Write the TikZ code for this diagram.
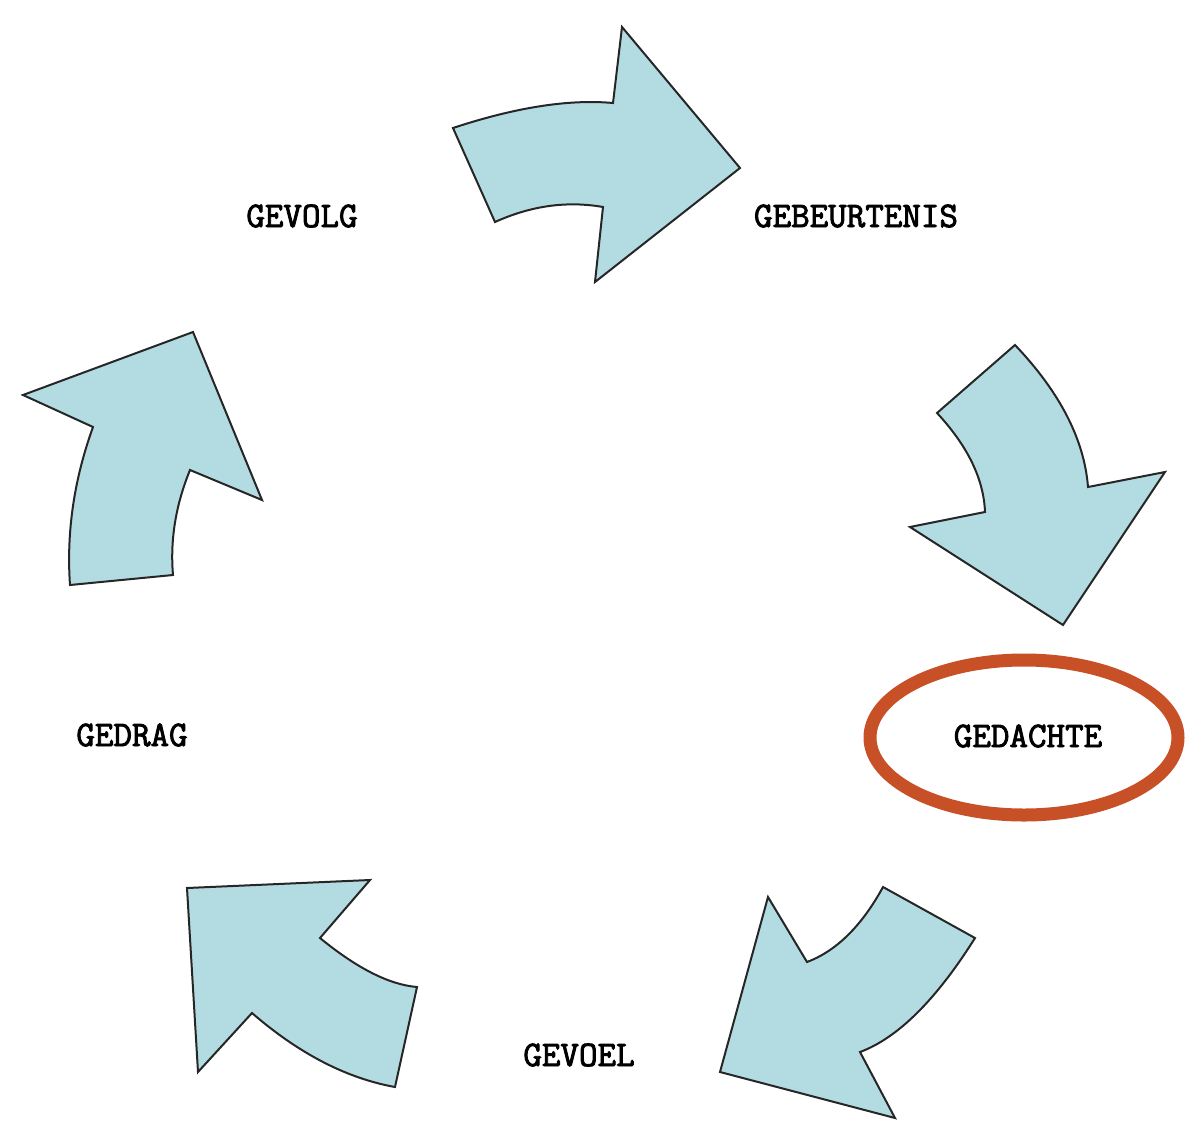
\documentclass[tikz,border=0pt]{standalone}
\usepackage{fontspec}
\newfontfamily\labelfont[FakeBold=2.5]{Latin Modern Mono}
\usepackage{tikz}
\definecolor{arrowblue}{RGB}{179,220,226}
\definecolor{ringred}{RGB}{200,80,38}

\begin{document}
\begin{tikzpicture}[x = 1pt, y = -1pt,
  pijl/.style = {draw = black!85, fill = arrowblue, line width = 2pt, line join = miter},
  stap/.style = {font = \labelfont\fontsize{36}{36}\selectfont, inner sep = 0pt}]
\useasboundingbox (0,0) rectangle (1191,1122);
% labels
\node[stap] (gevolg) at (302,216) {GEVOLG};
\node[stap] (gebeurtenis) at (856,216) {GEBEURTENIS};
\node[stap] (gedachte) at (1028,736) {GEDACHTE};
\node[stap] (gevoel) at (579,1055) {GEVOEL};
\node[stap] (gedrag) at (132,735) {GEDRAG};
% ring round gedachte
\draw[ringred, line width = 13pt] (1024,737.5) ellipse [x radius = 154, y radius = 77.5];
% arrows
\draw[pijl] (453,128) .. controls (515.7,107.3) and (569,99) .. (613,103) -- (622,27) -- (740,168)
  -- (595,282) -- (603,207) .. controls (567,200.7) and (531,205.7) .. (495,222) -- cycle;
\draw[pijl] (1015,345) .. controls (1060,392.3) and (1084.3,439.7) .. (1088,487) -- (1165,472) -- (1063,625)
  -- (910,527) -- (985,512) .. controls (983.7,479) and (967.7,446) .. (937,413) -- cycle;
\draw[pijl] (883,887) -- (975,938) .. controls (936,1000) and (897.7,1038) .. (860,1052) -- (895,1118)
  -- (720,1072) -- (768,897) -- (807,962) .. controls (836.3,951) and (861.7,926) .. cycle;
\draw[pijl] (417,987) -- (395,1087) .. controls (346.7,1078.3) and (299,1053.7) .. (252,1013) -- (198,1072)
  -- (187,888) -- (370,880) -- (320,938) .. controls (357,968.3) and (389.3,984.7) .. cycle;
\draw[pijl] (70,585) -- (173,575) .. controls (170,540) and (175.7,505) .. (190,470) -- (262,500)
  -- (193,332) -- (23,395) -- (93,427) .. controls (74,479.7) and (66.3,532.3) .. cycle;
\end{tikzpicture}
\end{document}
